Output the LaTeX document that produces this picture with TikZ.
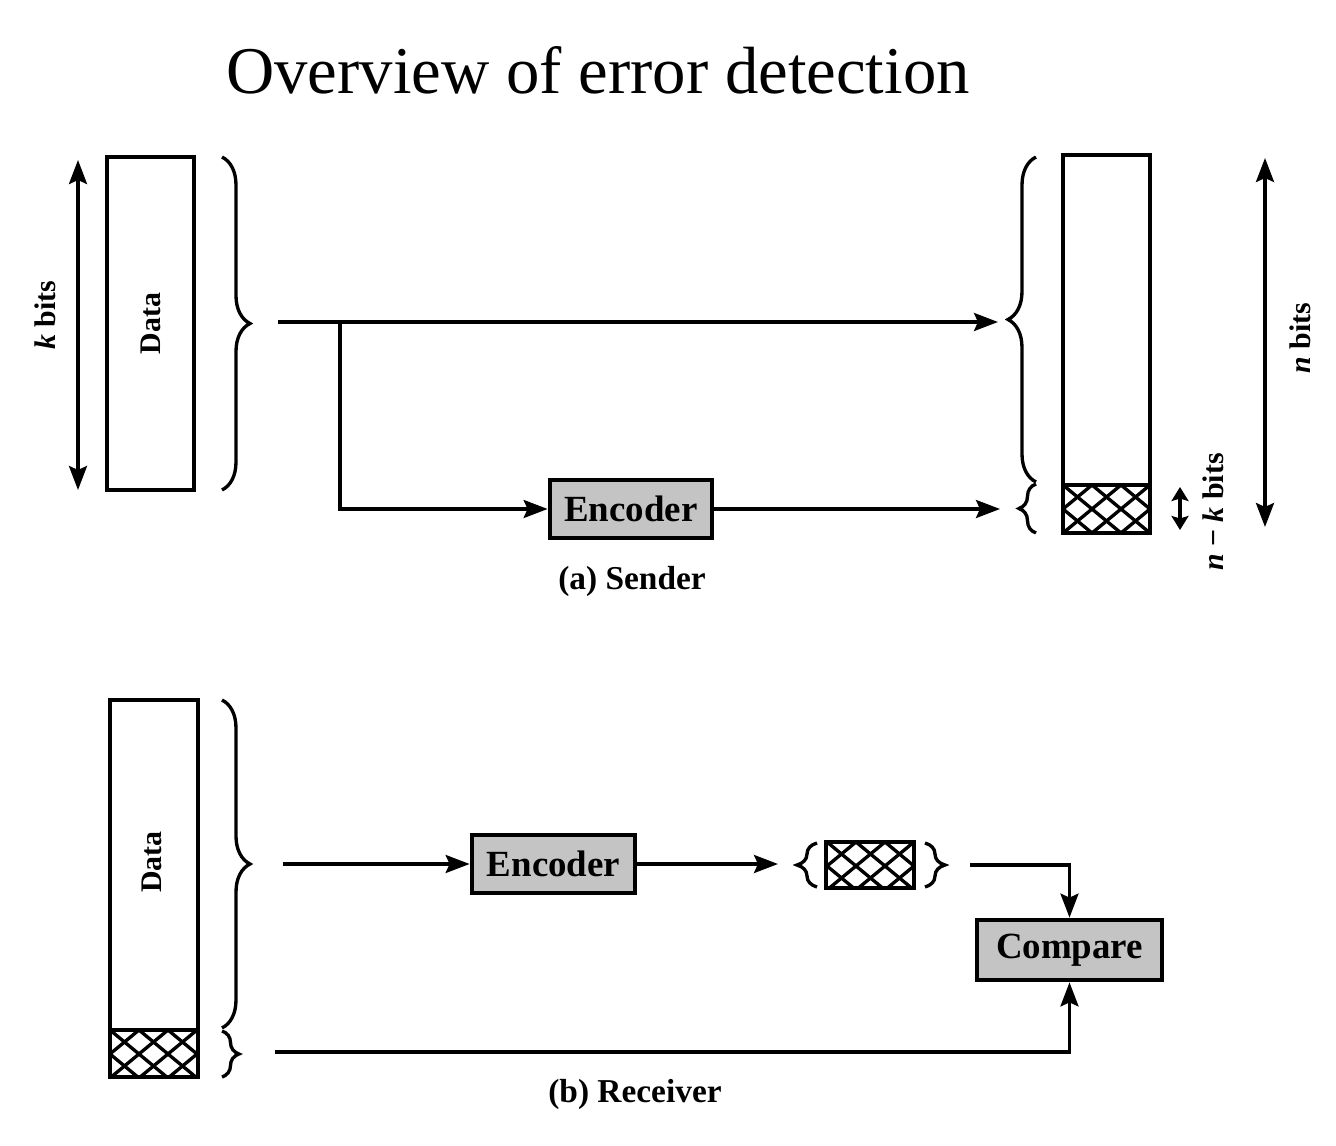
\documentclass[tikz,border=0pt]{standalone}
\usepackage{fontspec}
\setmainfont{Liberation Serif}
\usepackage{tikz}
\usetikzlibrary{positioning, arrows.meta, decorations.pathreplacing}
\definecolor{boxgray}{RGB}{196,196,196}
\newcommand{\xhatch}[4]{%
  \begin{scope}
    \clip (#1,#2) rectangle (#3,#4);
    \foreach \i in {-116,-87,...,145} {
      \draw[line width=1.9pt] (#1+\i,#2) -- ++(116,96);
      \draw[line width=1.9pt] (#1+\i,#2) -- ++(-116,96);
    }
  \end{scope}}

\begin{document}
\begin{tikzpicture}[x=0.2mm, y=-0.2mm,
  blk/.style={draw, line width=2.7pt, inner sep=0pt},
  proc/.style={blk, fill=boxgray, font=\bfseries\fontsize{21}{24}\selectfont},
  lbl/.style={font=\bfseries\fontsize{17}{20}\selectfont},
  capt/.style={font=\bfseries\fontsize{19}{22}\selectfont},
  arr/.style={line width=1.9pt, -{Stealth[length=4.8mm, width=3.6mm, inset=0.8mm]}},
  dim/.style={line width=1.9pt, {Stealth[length=4.8mm, width=3.6mm, inset=0.8mm]}-{Stealth[length=4.8mm, width=3.6mm, inset=0.8mm]}},
  brc/.style={decorate, decoration={brace, amplitude=#1, aspect=0.5}, line width=1.9pt},
  brc/.default=5.6mm]
\useasboundingbox (0,0) rectangle (1336,1146);

\node[font=\fontsize{38}{44}\selectfont] (title) at (598,70) {Overview of error detection};

% (a) sender
\node[blk, minimum width=17.4mm, minimum height=66.6mm] (dataS) at (150.5,323.5) {};
\node[lbl, rotate=90] at (dataS) {Data};
\coordinate (kTop) at (78,160);
\coordinate (kBot) at (78,490);
\draw[dim] (kBot) -- (kTop);
\node[lbl, rotate=90] at (45,315) {\textit{k} bits};
\draw[brc] (222,157) -- (222,490);

\node[blk, minimum width=17.4mm, minimum height=75.6mm] (codeS) at (1106.5,344) {};
\xhatch{1063}{485}{1150}{533}
\draw[line width=2.7pt] (1063,485) -- (1150,485);
\draw[brc] (1036,482) -- (1036,157);
\draw[brc=3.4mm] (1036,533) -- (1036,484);
\coordinate (nkTop) at (1180,487);
\coordinate (nkBot) at (1180,530);
\draw[dim, {Stealth[length=2.8mm, width=3.4mm, inset=0.5mm]}-{Stealth[length=2.8mm, width=3.4mm, inset=0.5mm]}] (nkBot) -- (nkTop);
\node[lbl, rotate=90] at (1213,512) {\textit{n} − \textit{k} bits};
\coordinate (nTop) at (1265,158);
\coordinate (nBot) at (1265,527);
\draw[dim] (nBot) -- (nTop);
\node[lbl, rotate=90] at (1300,338) {\textit{n} bits};

\node[proc, minimum width=32.4mm, minimum height=11.6mm] (encS) at (631,509) {Encoder};
\coordinate (srcS) at (278,322);
\coordinate (brS) at (340,322);
\coordinate (inS) at (998,322);
\coordinate (chkS) at (1000,511);
\draw[arr] (srcS) -- (inS);
\draw[arr] (brS) |- (encS.west);
\draw[arr] (encS.east) -- (encS.east -| chkS);
\node[capt] (capS) at (632,581) {(a) Sender};

% (b) receiver
\node[blk, minimum width=17.6mm, minimum height=75.4mm] (dataR) at (154,888.5) {};
\node[lbl, rotate=90] at (152,862) {Data};
\xhatch{110}{1030}{198}{1077}
\draw[line width=2.7pt] (110,1030) -- (198,1030);
\draw[brc] (222,700) -- (222,1028);
\draw[brc=3.4mm] (222,1031) -- (222,1077);

\node[proc, minimum width=32.6mm, minimum height=11.6mm] (encR) at (553.5,864) {Encoder};
\coordinate (srcR) at (283,864);
\draw[arr] (srcR) -- (encR.west);
\coordinate (chkIn) at (778,864);
\draw[arr] (encR.east) -- (chkIn);

\node[blk, minimum width=17.6mm, minimum height=9.2mm] (chkR) at (870,865) {};
\xhatch{827}{842}{913}{888}
\draw[brc=4mm] (817,887) -- (817,843);
\draw[brc=4mm] (925,843) -- (925,887);

\node[proc, minimum width=37mm, minimum height=12mm] (cmpR) at (1069.5,950) {Compare};
\coordinate (outR) at (970,865);
\draw[arr] (outR) -| (cmpR.north);
\coordinate (rxR) at (275,1052);
\draw[arr] (rxR) -| (cmpR.south);
\node[capt] (capR) at (635,1094) {(b) Receiver};
\end{tikzpicture}
\end{document}
